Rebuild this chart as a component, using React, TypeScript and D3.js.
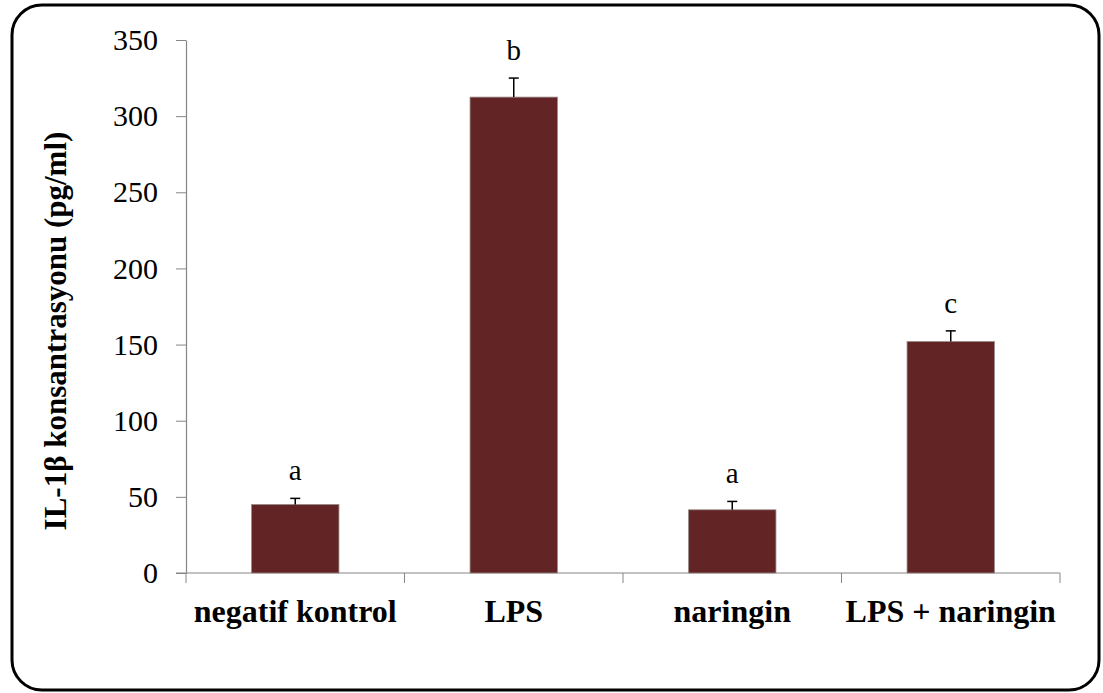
import React, { useRef, useEffect } from "react";
import * as d3 from "d3";

// group names, mean values, error bar (upper) and significance letters
const groups = ["negatif kontrol", "LPS", "naringin", "LPS + naringin"];
const means = [45, 312.5, 41.5, 152];
const errors = [4, 12.5, 5.5, 7];
const letters = ["a", "b", "a", "c"];
const yTicks = [0, 50, 100, 150, 200, 250, 300, 350];

function App() {
  const svgRef = useRef<SVGSVGElement>(null);

  useEffect(() => {
    const w = 1103;
    const h = 693;
    const svg = d3.select(svgRef.current).attr("width", w).attr("height", h);
    svg.selectAll("*").remove();

    // rounded outer frame
    svg
      .append("rect")
      .attr("x", 12)
      .attr("y", 5)
      .attr("width", 1087)
      .attr("height", 685)
      .attr("rx", 30)
      .attr("fill", "white")
      .attr("stroke", "black")
      .attr("stroke-width", 3);

    const left = 186;
    const right = 1060;
    const top = 40;
    const bottom = 573;

    const x = d3.scaleBand().domain(groups).range([left, right]).paddingInner(0.6).paddingOuter(0.3);
    const xEdge = d3.scaleLinear().domain([0, groups.length]).range([left, right]);
    const y = d3.scaleLinear().domain([0, 350]).range([bottom, top]);

    const grey = "#868686";
    const font = "'Liberation Serif', 'Times New Roman', serif";

    // y axis
    const yAxis = d3
      .axisLeft(y)
      .tickValues(yTicks)
      .tickSize(10)
      .tickPadding(18)
      .tickSizeOuter(0);
    const gy = svg.append("g").attr("transform", `translate(${left},0)`).call(yAxis);
    gy.selectAll("line").attr("stroke", grey);
    gy.select(".domain").attr("stroke", grey).attr("stroke-width", 1.2);
    gy.selectAll("text")
      .attr("font-family", font)
      .attr("font-size", 30)
      .attr("fill", "black");

    // x axis with ticks between categories
    svg
      .append("line")
      .attr("x1", left - 10)
      .attr("x2", right)
      .attr("y1", bottom)
      .attr("y2", bottom)
      .attr("stroke", grey)
      .attr("stroke-width", 1.2);
    svg
      .selectAll("line.xt")
      .data(d3.range(groups.length + 1))
      .enter()
      .append("line")
      .attr("class", "xt")
      .attr("x1", (d) => xEdge(d))
      .attr("x2", (d) => xEdge(d))
      .attr("y1", bottom)
      .attr("y2", bottom + 10)
      .attr("stroke", grey);

    // bars
    svg
      .selectAll("rect.bar")
      .data(groups)
      .enter()
      .append("rect")
      .attr("class", "bar")
      .attr("x", (d) => x(d)!)
      .attr("width", x.bandwidth())
      .attr("y", (d, i) => y(means[i]))
      .attr("height", (d, i) => bottom - y(means[i]))
      .attr("fill", "#632425")
      .attr("stroke", "#9a8a8a")
      .attr("stroke-width", 0.8);

    // error bars (upper only)
    const eb = svg.append("g");
    groups.forEach((g, i) => {
      const cx = x(g)! + x.bandwidth() / 2;
      eb.append("line")
        .attr("x1", cx)
        .attr("x2", cx)
        .attr("y1", y(means[i]))
        .attr("y2", y(means[i] + errors[i]))
        .attr("stroke", "black")
        .attr("stroke-width", 1.5);
      eb.append("line")
        .attr("x1", cx - 5)
        .attr("x2", cx + 5)
        .attr("y1", y(means[i] + errors[i]))
        .attr("y2", y(means[i] + errors[i]))
        .attr("stroke", "black")
        .attr("stroke-width", 1.5);
      eb.append("text")
        .attr("x", cx)
        .attr("y", y(means[i] + errors[i]) - 18)
        .attr("text-anchor", "middle")
        .attr("font-family", font)
        .attr("font-size", 29)
        .text(letters[i]);
    });

    // category labels
    svg
      .selectAll("text.cat")
      .data(groups)
      .enter()
      .append("text")
      .attr("class", "cat")
      .attr("x", (d) => x(d)! + x.bandwidth() / 2)
      .attr("y", 622)
      .attr("text-anchor", "middle")
      .attr("font-family", font)
      .attr("font-weight", "bold")
      .attr("font-size", 32)
      .text((d) => d);

    // y axis title
    svg
      .append("text")
      .attr("transform", "translate(66, 331) rotate(-90)")
      .attr("text-anchor", "middle")
      .attr("font-family", font)
      .attr("font-weight", "bold")
      .attr("font-size", 31)
      .text("IL-1β konsantrasyonu (pg/ml)");
  }, []);

  return (
    <div style={{ position: "absolute", left: 0, top: 0 }}>
      <svg ref={svgRef}></svg>
    </div>
  );
}

export default App;
